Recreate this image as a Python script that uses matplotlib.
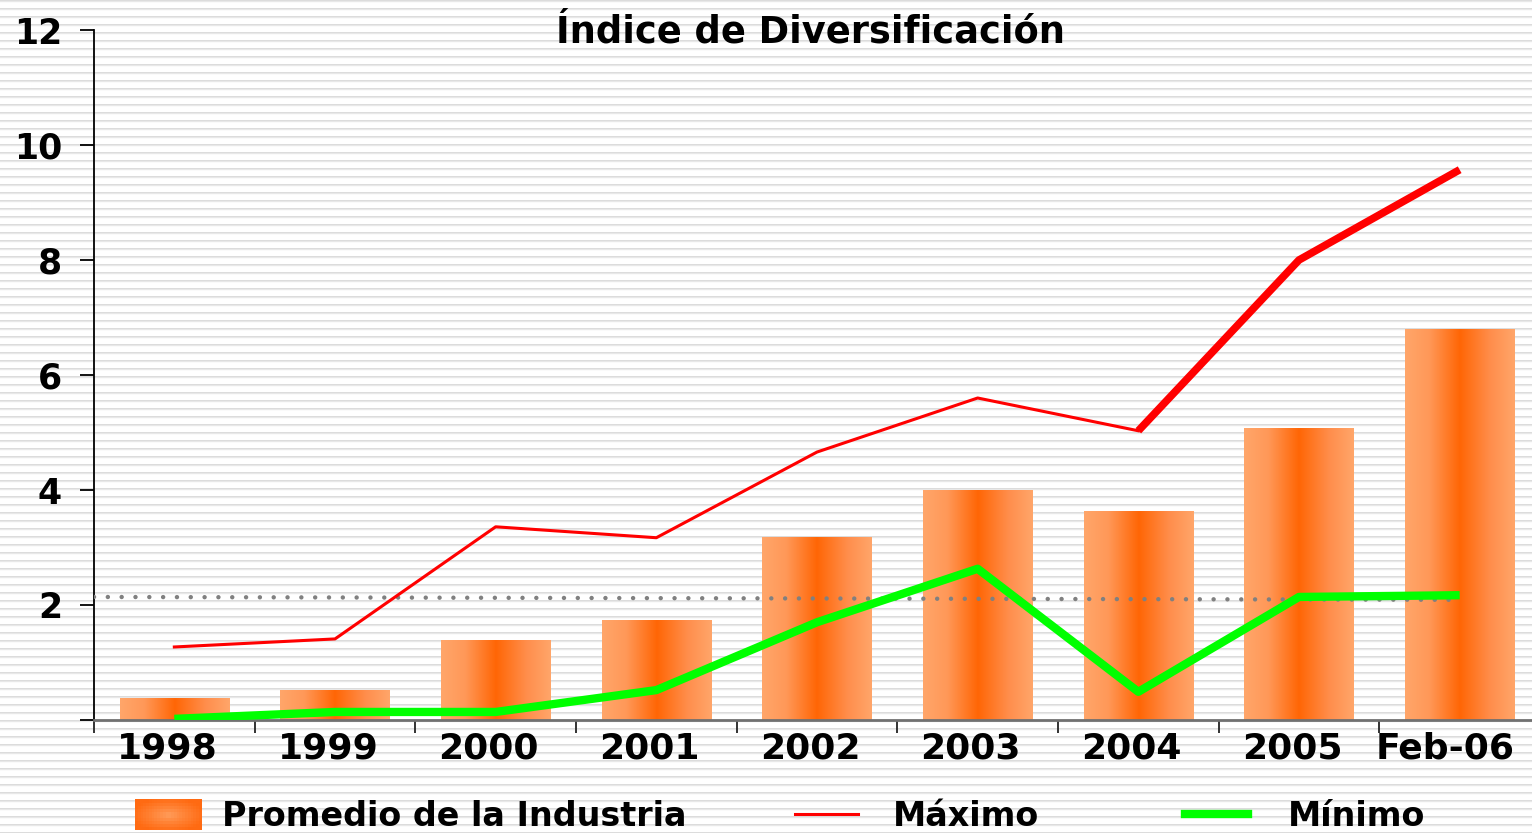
import numpy as np
import matplotlib.pyplot as plt
from matplotlib.colors import LinearSegmentedColormap, to_rgb
from matplotlib.lines import Line2D
from matplotlib.patches import Rectangle
from matplotlib.legend_handler import HandlerBase
from matplotlib.transforms import ScaledTranslation

categories = ["1998", "1999", "2000", "2001", "2002", "2003", "2004", "2005", "Feb-06"]
promedio = [0.38, 0.52, 1.39, 1.74, 3.18, 4.00, 3.63, 5.08, 6.80]
maximo = [1.27, 1.41, 3.36, 3.17, 4.66, 5.60, 5.03, 8.00, 9.57]
minimo = [0.02, 0.14, 0.14, 0.52, 1.70, 2.63, 0.49, 2.14, 2.17]
# dotted reference line, value at start and end
referencia = [2.14, 2.09]

plt.rcParams["font.family"] = "DejaVu Sans"
plt.rcParams["font.weight"] = "bold"

W, H = 1532, 833
fig = plt.figure(figsize=(W / 100, H / 100), dpi=100)

# striped background over the whole figure
bg = fig.add_axes([0, 0, 1, 1], zorder=-5)
row = np.array([0.86, 0.91, 0.98, 1, 1, 1, 1, 1])
stripes = np.tile(row, H // len(row) + 1)[:H]
bg.imshow(stripes[:, None], cmap="gray", vmin=0, vmax=1, aspect="auto",
          interpolation="nearest", extent=[0, 1, 0, 1], origin="upper")
bg.set_axis_off()

ax = fig.add_axes([94 / W, 113 / H, (1540 - 94) / W, 690 / H])
ax.set_facecolor("none")

orange = LinearSegmentedColormap.from_list(
    "bar_orange",
    [(0.0, "#ffa66a"), (0.22, "#ff9858"), (0.5, "#ff6605"),
     (0.78, "#ff8e4c"), (1.0, "#ffa66a")])

x = np.arange(len(categories))
bars = ax.bar(x, promedio, width=0.68, color="none", edgecolor="none", zorder=2)
grad = np.linspace(0, 1, 256)[None, :]
for b in bars:
    x0, y0 = b.get_x(), b.get_y()
    im = ax.imshow(grad, cmap=orange, aspect="auto", interpolation="bilinear",
                   extent=[x0, x0 + b.get_width(), y0, y0 + b.get_height()],
                   zorder=2)
    im.set_clip_path(b)

ax.plot([-0.5, x[-1]], referencia, color="#808080", lw=3.2,
        dashes=(0.01, 3.1), dash_capstyle="round", zorder=3)
ax.plot(x[:7], maximo[:7], color="#ff0000", lw=2.2, zorder=4)
ax.plot(x[6:], maximo[6:], color="#ff0000", lw=5.5, zorder=4,
        solid_capstyle="butt")
ax.plot(x, minimo, color="#00ff00", lw=6, zorder=5, solid_capstyle="butt")

ax.set_xlim(-0.5, len(categories) - 0.5)
ax.set_ylim(0, 12)

ax.set_xticks(x)
ax.set_xticklabels(categories)
ax.set_xticks(np.arange(-0.5, len(categories), 1), minor=True)
ax.tick_params(axis="x", which="major", length=0, pad=8, labelsize=26)
ax.tick_params(axis="x", which="minor", length=9.5, width=1.3, color="#222222")
# labels sit a little left of the category centre; the last one is kept inside
shifts = [-7] * (len(categories) - 1) + [-15]
for lbl, dx in zip(ax.get_xticklabels(), shifts):
    lbl.set_transform(lbl.get_transform()
                      + ScaledTranslation(dx / 100, 0, fig.dpi_scale_trans))
ax.set_yticks(range(0, 13, 2))
ax.set_yticklabels([""] + [str(v) for v in range(2, 13, 2)])
ax.tick_params(axis="y", length=10, width=1.3, pad=13, labelsize=25)

for s in ("top", "right"):
    ax.spines[s].set_visible(False)
ax.spines["left"].set_color("black")
ax.spines["left"].set_linewidth(1.3)
ax.spines["bottom"].set_color("#707070")
ax.spines["bottom"].set_linewidth(2)

fig.text(811 / W, 1 - 32 / H, "Índice de Diversificación", ha="center",
         va="center", fontsize=26.5, fontweight="bold")


class GradientPatchHandler(HandlerBase):
    # legend key filled with a soft radial orange gradient
    def create_artists(self, legend, orig_handle, xdescent, ydescent,
                       width, height, fontsize, trans):
        nx, ny = 24, 10
        inner = np.array(to_rgb("#ffa060"))
        outer = np.array(to_rgb("#ff6a12"))
        h = height + 5
        y0 = -ydescent - 3
        arts = []
        for i in range(nx):
            for j in range(ny):
                u = ((i + 0.5) / nx - 0.5) * 2
                v = ((j + 0.5) / ny - 0.5) * 2
                r = min(1.0, np.hypot(u, v) / 1.1)
                c = inner + (outer - inner) * r ** 0.8
                arts.append(Rectangle((-xdescent + width * i / nx, y0 + h * j / ny),
                                      width / nx + 0.3, h / ny + 0.3,
                                      facecolor=c, edgecolor="none",
                                      transform=trans))
        return arts


legend_items = [
    (Rectangle((0, 0), 1, 1), "Promedio de la Industria", 135, 2.0, 0.6,
     {Rectangle: GradientPatchHandler()}),
    (Line2D([], [], color="#ff0000", lw=2.2), "Máximo", 795, 1.9, 1.05, None),
    (Line2D([], [], color="#00ff00", lw=6), "Mínimo", 1185, 1.9, 1.2, None),
]
for handle, label, xpix, hlen, hpad, hmap in legend_items:
    fig.legend([handle], [label], loc="center left",
               bbox_to_anchor=(xpix / W, 16.5 / H), frameon=False,
               handlelength=hlen, handletextpad=hpad,
               borderpad=0, borderaxespad=0, handler_map=hmap,
               prop={"weight": "bold", "size": 24})

fig.savefig("out.png", dpi=100)
